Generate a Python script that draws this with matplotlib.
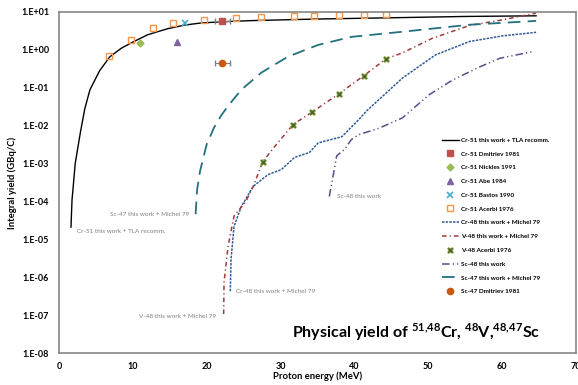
import matplotlib.pyplot as plt
import numpy as np

# ---- data (energy in MeV, yield in GBq/C) ----
cr51_E = [1.63, 1.7, 1.77, 1.9, 2.2, 2.9, 3.5, 4.2, 5.5, 6.9, 8.5, 10, 12, 14.7, 17, 19.2, 22, 26, 35, 46.5, 55, 64.6]
cr51_Y = [2.1e-5, 5e-5, 1.1e-4, 2.1e-4, 1e-3, 6.6e-3, 2.8e-2, 8.9e-2, 0.28, 0.66, 1.12, 1.6, 2.5, 3.6, 4.5, 5.1, 5.5, 5.9, 6.5, 7.1, 7.6, 7.9]

cr48_E = [23.2, 23.3, 23.7, 24.7, 26.3, 28.3, 30.1, 31.9, 33.9, 35.1, 38.3, 40.6, 41.7, 43.3, 46.5, 51, 55.6, 60.1, 64.6]
cr48_Y = [4.3e-7, 3e-6, 2.2e-5, 7.4e-5, 2.5e-4, 5.1e-4, 6.9e-4, 1.45e-3, 1.95e-3, 3.5e-3, 5.1e-3, 1.45e-2, 2.5e-2, 4.8e-2, 0.18, 0.74, 1.66, 2.34, 2.9]

v48_E = [22.3, 22.35, 22.9, 23.7, 25.3, 26.3, 27.6, 29.2, 31.7, 34.3, 37.9, 41.3, 44.3, 46.5, 50.5, 55.6, 60.1, 64.6]
v48_Y = [1.07e-7, 7.4e-7, 6.6e-6, 4.1e-5, 1e-4, 2.5e-4, 1.12e-3, 2.8e-3, 1.07e-2, 2.3e-2, 6.9e-2, 0.21, 0.58, 0.83, 2.0, 4.4, 6.2, 9.3]

sc48_E = [36.6, 37.2, 37.6, 38.6, 39.6, 40.6, 43.3, 46.5, 50.1, 53.3, 56.9, 59.7, 64.2]
sc48_Y = [1.35e-4, 5.8e-4, 1.6e-3, 2.3e-3, 4.3e-3, 5.8e-3, 8.5e-3, 1.6e-2, 6.5e-2, 0.16, 0.35, 0.6, 0.9]

sc47_E = [18.5, 18.7, 19.1, 20.0, 21.0, 22.0, 23.0, 24.7, 27.4, 31, 35.1, 39.6, 46.5, 55.6, 64.6]
sc47_Y = [4.6e-5, 2e-4, 6.3e-4, 3.2e-3, 8.9e-3, 1.9e-2, 3.5e-2, 8.9e-2, 0.25, 0.66, 1.35, 2.2, 3.0, 4.6, 5.8]

dmitriev_cr51_E = [22.1]
dmitriev_cr51_Y = [5.8]
dmitriev_cr51_err = [1.0]
nickles_E = [11.0]
nickles_Y = [1.5]
abe_E = [16.0]
abe_Y = [1.6]
bastos_E = [17.0]
bastos_Y = [5.1]
acerbi_cr51_E = [6.8, 9.8, 12.8, 15.5, 19.6, 24.0, 27.3, 31.8, 34.5, 37.9, 41.3, 44.3]
acerbi_cr51_Y = [0.69, 1.8, 3.8, 5.1, 6.3, 6.8, 7.3, 7.7, 7.8, 8.3, 8.5, 8.7]
acerbi_v48_E = [27.6, 31.7, 34.3, 37.9, 41.3, 44.3]
acerbi_v48_Y = [1.12e-3, 1.07e-2, 2.3e-2, 6.9e-2, 0.21, 0.58]
dmitriev_sc47_E = [22.1]
dmitriev_sc47_Y = [0.46]
dmitriev_sc47_err = [1.0]

plt.rcParams['font.family'] = ['Lato', 'DejaVu Sans']
plt.rcParams['mathtext.fontset'] = 'custom'
plt.rcParams['mathtext.bf'] = 'Lato:bold'
plt.rcParams['mathtext.rm'] = 'Lato:bold'

fig = plt.figure(figsize=(5.78, 3.85), dpi=100)
ax = fig.add_axes([0.102, 0.083, 0.8945, 0.886])

ax.plot(cr51_E, cr51_Y, color='black', lw=1.0, label='Cr-51 this work + TLA recomm.')
ax.errorbar(dmitriev_cr51_E, dmitriev_cr51_Y, xerr=dmitriev_cr51_err, fmt='none',
            ecolor='#7F7F7F', elinewidth=0.8, capsize=2)
ax.plot(dmitriev_cr51_E, dmitriev_cr51_Y, 's', color='#C0504D', ms=4.5, ls='none', label='Cr-51 Dmitriev 1981')
ax.plot(nickles_E, nickles_Y, 'D', color='#9BBB59', ms=3.5, ls='none', label='Cr-51 Nickles 1991')
ax.plot(abe_E, abe_Y, '^', color='#8064A2', ms=4.5, ls='none', label='Cr-51 Abe 1984')
ax.plot(bastos_E, bastos_Y, 'x', color='#4BACC6', ms=4, mew=1.2, ls='none', label='Cr-51 Bastos 1990')
ax.plot(acerbi_cr51_E, acerbi_cr51_Y, 's', mfc='none', mec='#F79646', mew=1.0, ms=4.5, ls='none',
        label='Cr-51 Acerbi 1976')
ax.plot(cr48_E, cr48_Y, color='#2F5A9A', lw=1.1, dashes=(1.6, 0.8), label='Cr-48 this work + Michel 79')
ax.plot(v48_E, v48_Y, color='#9E3A3C', lw=1.1, dashes=(3, 2, 0.8, 2), label='V-48 this work + Michel 79')
ax.plot(acerbi_v48_E, acerbi_v48_Y, 'X', mfc='#4F6228', mec='#9BBB59', mew=0.5, ms=5, ls='none',
        label='V-48 Acerbi 1976')
ax.plot(sc48_E, sc48_Y, color='#5F4B8B', lw=1.1, dashes=(5, 2, 0.8, 2, 0.8, 2), label='Sc-48 this work')
ax.plot(sc47_E, sc47_Y, color='#23707F', lw=1.3, dashes=(7, 4), label='Sc-47 this work + Michel 79')
ax.errorbar(dmitriev_sc47_E, dmitriev_sc47_Y, xerr=dmitriev_sc47_err, fmt='none',
            ecolor='#7F7F7F', elinewidth=0.8, capsize=2)
ax.plot(dmitriev_sc47_E, dmitriev_sc47_Y, 'o', color='#C65911', ms=4.5, ls='none', label='Sc-47 Dmitriev 1981')

# curve annotations
note = dict(fontsize=4.6, color='#7F7F7F', va='center')
ax.text(17.6, 4.6e-5, 'Sc-47 this work + Michel 79', ha='right', **note)
ax.text(2.4, 1.6e-5, 'Cr-51 this work + TLA recomm.', ha='left', **note)
ax.text(10.8, 9.3e-8, 'V-48 this work + Michel 79', ha='left', **note)
ax.text(24.0, 4.3e-7, 'Cr-48 this work + Michel 79', ha='left', **note)
ax.text(37.6, 1.35e-4, 'Sc-48 this work', ha='left', **note)

ax.text(0.93, 0.06, r'Physical yield of $^{\mathbf{51{,}48}}$Cr, $^{\mathbf{48}}$V,$^{\mathbf{48{,}47}}$Sc',
        transform=ax.transAxes, ha='right', va='center', fontsize=11.5, fontweight='bold')

ax.set_yscale('log')
ax.set_xlim(0, 70)
ax.set_ylim(1e-8, 1e1)
ax.set_xticks(range(0, 71, 10))
exps = list(range(-8, 2))
ax.set_yticks([10.0 ** k for k in exps])
ax.set_yticklabels(['1.E' + ('+' if k >= 0 else '-') + '%02d' % abs(k) for k in exps])
ax.minorticks_off()
ax.tick_params(axis='y', length=0, labelsize=6.5, pad=7)
ax.tick_params(axis='x', length=0, labelsize=6.5, pad=6.5)
for lab in ax.get_xticklabels() + ax.get_yticklabels():
    lab.set_fontweight('bold')
for sp in ax.spines.values():
    sp.set_color('#868686')
    sp.set_linewidth(1.2)

ax.set_xlabel('Proton energy (MeV)', fontsize=6.8, fontweight='bold', labelpad=0)
ax.set_ylabel('Integral yield (GBq/C)', fontsize=6.8, fontweight='bold', labelpad=3)

# legend in the order of the original series
handles, labels = ax.get_legend_handles_labels()
order = ['Cr-51 this work + TLA recomm.', 'Cr-51 Dmitriev 1981', 'Cr-51 Nickles 1991', 'Cr-51 Abe 1984',
         'Cr-51 Bastos 1990', 'Cr-51 Acerbi 1976', 'Cr-48 this work + Michel 79', 'V-48 this work + Michel 79',
         'V-48 Acerbi 1976', 'Sc-48 this work', 'Sc-47 this work + Michel 79', 'Sc-47 Dmitriev 1981']
lookup = dict(zip(labels, handles))
ax.legend([lookup[o] for o in order], order, loc='upper left', bbox_to_anchor=(0.735, 0.64), frameon=False,
          prop={'size': 4.6, 'weight': 'bold'}, labelspacing=1.3, handlelength=2.8,
          handletextpad=0.3, borderaxespad=0)

fig.savefig('out.png', dpi=100)
